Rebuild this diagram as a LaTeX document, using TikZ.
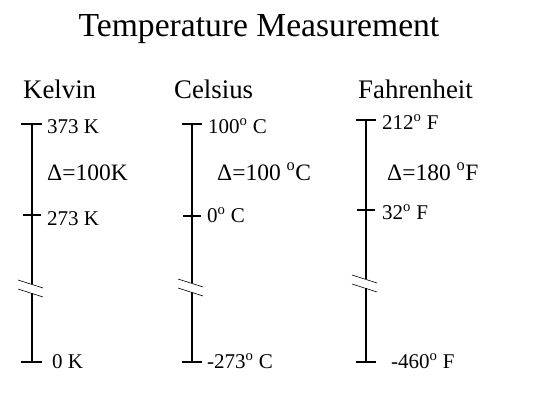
\documentclass[tikz,border=0pt]{standalone}
\usepackage{fontspec}
\setmainfont{Liberation Serif}
\begin{document}
\begin{tikzpicture}[x=1pt,y=-1pt,
  scaleline/.style={line width=2.4pt},
  tickline/.style={line width=2.4pt},
  slash/.style={line width=0.6pt},
  title/.style={font=\fontsize{33.6}{36}\selectfont, anchor=base},
  header/.style={font=\fontsize{26.8}{28}\selectfont, anchor=base west, inner sep=0pt},
  lbl/.style={font=\fontsize{21}{23}\selectfont, anchor=base west, inner sep=0pt},
  dlbl/.style={font=\fontsize{23.5}{26}\selectfont, anchor=base west, inner sep=0pt}]
\useasboundingbox (0,0) rectangle (550,413);
\node[title] (t) at (259,36) {Temperature Measurement};
\node[header] (hk) at (23,98) {Kelvin};
\node[header] (hc) at (174,98) {Celsius};
\node[header] (hf) at (358,98) {Fahrenheit};
% Kelvin
\coordinate (k1) at (32,124); \coordinate (k2) at (32,215);
\coordinate (kb1) at (32,284); \coordinate (kb2) at (32,293);
\coordinate (k3) at (32,362);
\draw[scaleline] (k1) -- (kb1) (kb2) -- (k3);
\draw[tickline] ([xshift=-11]k1) -- ([xshift=10]k1);
\draw[tickline] ([xshift=-9]k2) -- ([xshift=9]k2);
\draw[tickline] ([xshift=-11]k3) -- ([xshift=10]k3);
\draw[slash] ([xshift=-14,yshift=4]kb1) -- ([xshift=11,yshift=-4]kb1);
\draw[slash] ([xshift=-14,yshift=4]kb2) -- ([xshift=11,yshift=-4]kb2);
\node[lbl] (kl1) at (47,133) {373 K};
\node[dlbl] (kd) at (47,180) {Δ=100K};
\node[lbl] (kl2) at (47,225) {273 K};
\node[lbl] (kl3) at (52,368) {0 K};
% Celsius
\coordinate (c1) at (192,124); \coordinate (c2) at (192,216);
\coordinate (cb1) at (192,283); \coordinate (cb2) at (192,292);
\coordinate (c3) at (192,362);
\draw[scaleline] (c1) -- (cb1) (cb2) -- (c3);
\draw[tickline] ([xshift=-10]c1) -- ([xshift=10]c1);
\draw[tickline] ([xshift=-9]c2) -- ([xshift=9]c2);
\draw[tickline] ([xshift=-10]c3) -- ([xshift=10]c3);
\draw[slash] ([xshift=-14,yshift=4]cb1) -- ([xshift=11,yshift=-4]cb1);
\draw[slash] ([xshift=-14,yshift=4]cb2) -- ([xshift=11,yshift=-4]cb2);
\node[lbl] (cl1) at (208,133) {100\textsuperscript{o} C};
\node[dlbl] (cd) at (217,180) {Δ=100 \textsuperscript{o}C};
\node[lbl] (cl2) at (207,222) {0\textsuperscript{o} C};
\node[lbl] (cl3) at (207,368) {-273\textsuperscript{o} C};
% Fahrenheit
\coordinate (f1) at (366,120); \coordinate (f2) at (366,210);
\coordinate (fb1) at (366,279); \coordinate (fb2) at (366,288);
\coordinate (f3) at (366,362);
\draw[scaleline] (f1) -- (fb1) (fb2) -- (f3);
\draw[tickline] ([xshift=-10]f1) -- ([xshift=10]f1);
\draw[tickline] ([xshift=-9]f2) -- ([xshift=9]f2);
\draw[tickline] ([xshift=-10]f3) -- ([xshift=10]f3);
\draw[slash] ([xshift=-14,yshift=4]fb1) -- ([xshift=11,yshift=-4]fb1);
\draw[slash] ([xshift=-14,yshift=4]fb2) -- ([xshift=11,yshift=-4]fb2);
\node[lbl] (fl1) at (382,129) {212\textsuperscript{o} F};
\node[dlbl] (fd) at (387,180) {Δ=180 \textsuperscript{o}F};
\node[lbl] (fl2) at (382,219) {32\textsuperscript{o} F};
\node[lbl] (fl3) at (391,368) {-460\textsuperscript{o} F};
\end{tikzpicture}
\end{document}
